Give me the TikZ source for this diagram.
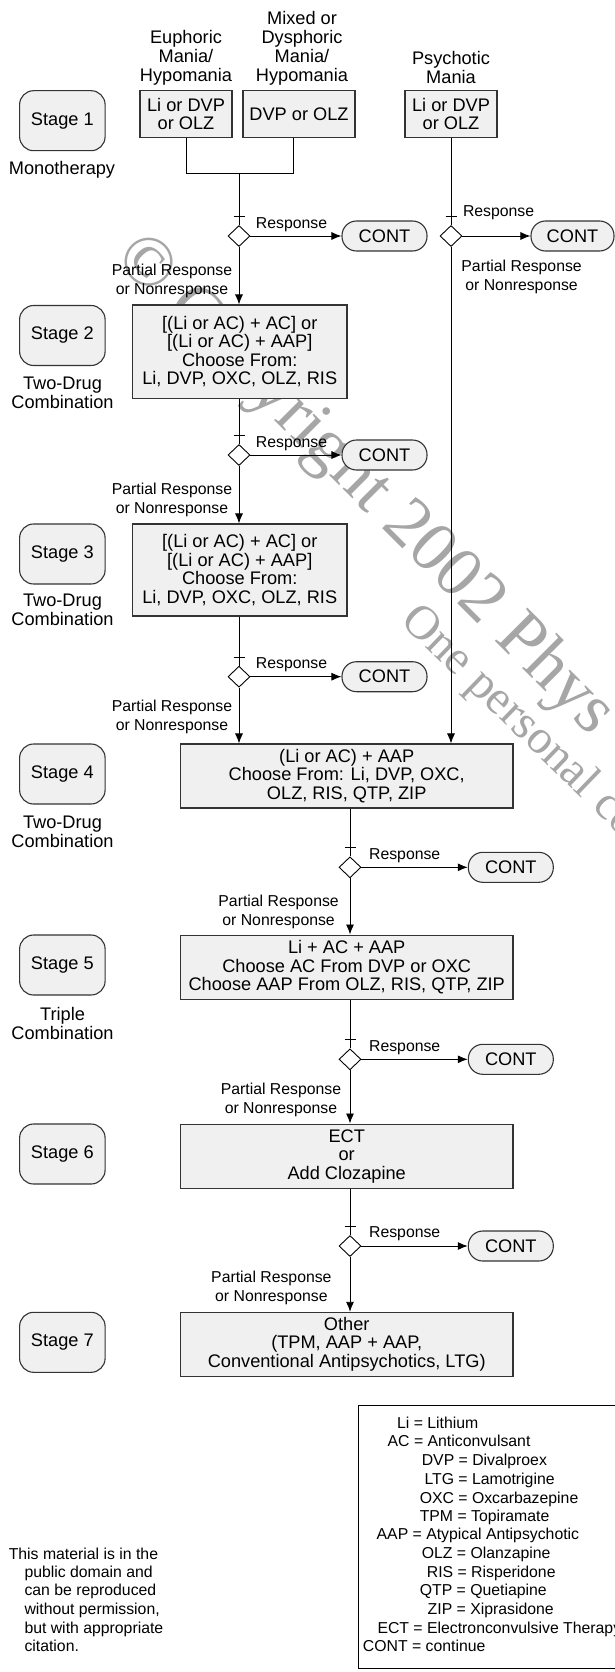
\documentclass[tikz,border=0pt]{standalone}
\usepackage{fontspec}
\setmainfont{Liberation Sans}
\newfontfamily\wmfont{Liberation Serif}
\usetikzlibrary{shapes.geometric,arrows.meta,calc}
\definecolor{boxfill}{HTML}{F0F0F0}
\definecolor{boxline}{HTML}{333333}
\definecolor{wmgray}{HTML}{A6A6A6}
\newcommand{\mainsize}{\fontsize{18.2}{18.4}\selectfont}
\newcommand{\smallsz}{\fontsize{15.8}{18.4}\selectfont}
\newcommand{\headsize}{\fontsize{18.2}{19}\selectfont}
\begin{document}
\begin{tikzpicture}[x=1pt,y=-1pt,
  stagebox/.style={draw=boxline,fill=boxfill,line width=1.1pt,rounded corners=14pt,minimum width=85.5pt,minimum height=60pt,inner sep=0pt,font=\mainsize},
  drugbox/.style={draw=boxline,fill=boxfill,line width=1.1pt,inner sep=0pt,align=center,font=\mainsize},
  contbox/.style={draw=boxline,fill=boxfill,line width=1.1pt,rounded corners=14.5pt,minimum width=85pt,minimum height=30pt,inner sep=0pt,font=\mainsize},
  decision/.style={draw=black,fill=white,diamond,line width=0.9pt,minimum width=22pt,minimum height=21pt,inner sep=0pt},
  sublabel/.style={align=center,font=\mainsize,inner sep=0pt},
  headlabel/.style={align=center,font=\headsize,inner sep=0pt},
  resp/.style={font=\smallsz,inner sep=0pt},
  partial/.style={align=center,font=\smallsz,inner sep=0pt},
  legendline/.style={anchor=base west,font=\smallsz,inner sep=0pt},
  flow/.style={line width=0.9pt,draw=black},
  arrowflow/.style={flow,-{Latex[length=10pt,width=8pt]}},
  tickmark/.style={line width=0.9pt},
  watermark/.style={text=wmgray,inner sep=0pt,anchor=base west}
]
\useasboundingbox (0,0) rectangle (615,1672);
\fill[white] (0,0) rectangle (615,1672);

% watermark (behind everything)
\node[watermark,font=\wmfont\fontsize{71}{71}\selectfont,rotate=-45] (wmA) at (113.4,259.5) {© Copyright 2002 Phys};
\node[watermark,font=\wmfont\fontsize{48}{48}\selectfont,rotate=-44] (wmB) at (399.2,622) {One personal co};

% stage labels
\node[stagebox] (s1) at (62.35,120.7) {Stage 1};
\node[stagebox] (s2) at (62.35,335.5) {Stage 2};
\node[stagebox] (s3) at (62.35,554) {Stage 3};
\node[stagebox] (s4) at (62.35,774) {Stage 4};
\node[stagebox] (s5) at (62.35,965) {Stage 5};
\node[stagebox] (s6) at (62.35,1154) {Stage 6};
\node[stagebox] (s7) at (62.35,1342.3) {Stage 7};

\node[sublabel] (s1t) at (62,170) {Monotherapy};
\node[sublabel] (s2t) at (62.5,392.8) {Two-Drug\\Combination};
\node[sublabel] (s3t) at (62.5,610) {Two-Drug\\Combination};
\node[sublabel] (s4t) at (62.5,832) {Two-Drug\\Combination};
\node[sublabel] (s5t) at (62.5,1023.4) {Triple\\Combination};

% headers
\node[headlabel] (h1) at (186,58) {Euphoric\\Mania/\\Hypomania};
\node[headlabel] (h2) at (302,48.5) {Mixed or\\Dysphoric\\Mania/\\Hypomania};
\node[headlabel] (h3) at (451,67.5) {Psychotic\\Mania};

% stage 1 boxes
\node[drugbox,minimum width=92pt,minimum height=46.6pt] (b1a) at (186,114) {Li or DVP\\or OLZ};
\node[drugbox,minimum width=112pt,minimum height=46.6pt] (b1b) at (299,114) {DVP or OLZ};
\node[drugbox,minimum width=92pt,minimum height=46.6pt] (b1c) at (451,114) {Li or DVP\\or OLZ};

% main boxes
\node[drugbox,minimum width=214.5pt,minimum height=93.3pt] (b2) at (239.75,351.65) {{[}(Li or AC) + AC] or\\{[}(Li or AC) + AAP]\\Choose From:\\Li, DVP, OXC, OLZ, RIS};
\node[drugbox,minimum width=214.5pt,minimum height=92pt] (b3) at (239.75,570) {{[}(Li or AC) + AC] or\\{[}(Li or AC) + AAP]\\Choose From:\\Li, DVP, OXC, OLZ, RIS};
\node[drugbox,minimum width=332.6pt,minimum height=64pt] (b4) at (346.7,776) {(Li or AC) + AAP\\Choose From: Li, DVP, OXC,\\OLZ, RIS, QTP, ZIP};
\node[drugbox,minimum width=332.6pt,minimum height=64.3pt] (b5) at (346.7,967.2) {Li + AC + AAP\\Choose AC From DVP or OXC\\Choose AAP From OLZ, RIS, QTP, ZIP};
\node[drugbox,minimum width=332.6pt,minimum height=64.3pt] (b6) at (346.7,1156.2) {ECT\\or\\Add Clozapine};
\node[drugbox,minimum width=332.6pt,minimum height=63.7pt] (b7) at (346.7,1344.2) {Other\\(TPM, AAP + AAP,\\Conventional Antipsychotics, LTG)};

% decisions
\node[decision] (d1) at (239,236) {};
\node[decision] (d2) at (239,455) {};
\node[decision] (d3) at (239,676.7) {};
\node[decision] (d4) at (350,867.3) {};
\node[decision] (d5) at (350,1059.3) {};
\node[decision] (d6) at (350,1246) {};
\node[decision] (dR) at (451,236) {};

% continue nodes
\node[contbox] (c1) at (384.5,236) {CONT};
\node[contbox] (c2) at (384.5,455) {CONT};
\node[contbox] (c3) at (384.5,676.7) {CONT};
\node[contbox] (c4) at (510.8,867.3) {CONT};
\node[contbox] (c5) at (510.8,1059.3) {CONT};
\node[contbox] (c6) at (510.8,1246) {CONT};
\node[contbox,minimum width=83pt] (cR) at (572.5,236) {CONT};

% response labels
\node[resp] (r1) at (291.5,224.7) {Response};
\node[resp] (r2) at (291.5,443.4) {Response};
\node[resp] (r3) at (291.5,664.4) {Response};
\node[resp] (r4) at (404.7,855.7) {Response};
\node[resp] (r5) at (404.7,1047.4) {Response};
\node[resp] (r6) at (404.7,1233.4) {Response};
\node[resp] (rR) at (498.6,212.7) {Response};

% partial labels
\node[partial] (p1) at (172,281) {Partial Response\\or Nonresponse};
\node[partial] (p2) at (172,500) {Partial Response\\or Nonresponse};
\node[partial] (p3) at (172,717) {Partial Response\\or Nonresponse};
\node[partial] (p4) at (278.6,912) {Partial Response\\or Nonresponse};
\node[partial] (p5) at (281,1100) {Partial Response\\or Nonresponse};
\node[partial] (p6) at (271.4,1288) {Partial Response\\or Nonresponse};
\node[partial] (pR) at (521.6,277) {Partial Response\\or Nonresponse};

% connectors
\coordinate (jA) at (186,173);
\coordinate (jB) at (293,173);
\coordinate (jM) at (239,173);
\draw[flow] (b1a.south) -- (jA) -- (jB) -- (jB |- b1b.south);
\draw[flow] (jM) -- (d1.north);
\draw[flow] (b1c.south) -- (dR.north);

\draw[arrowflow] (d1.east) -- (c1.west);
\draw[arrowflow] (d2.east) -- (c2.west);
\draw[arrowflow] (d3.east) -- (c3.west);
\draw[arrowflow] (d4.east) -- (c4.west);
\draw[arrowflow] (d5.east) -- (c5.west);
\draw[arrowflow] (d6.east) -- (c6.west);
\draw[arrowflow] (dR.east) -- (cR.west);

\draw[arrowflow] (d1.south) -- (d1.south |- b2.north);
\draw[flow] (d2 |- b2.south) -- (d2.north);
\draw[arrowflow] (d2.south) -- (d2.south |- b3.north);
\draw[flow] (d3 |- b3.south) -- (d3.north);
\draw[arrowflow] (d3.south) -- (d3.south |- b4.north);
\draw[arrowflow] (dR.south) -- (dR.south |- b4.north);
\draw[flow] (d4 |- b4.south) -- (d4.north);
\draw[arrowflow] (d4.south) -- (d4.south |- b5.north);
\draw[flow] (d5 |- b5.south) -- (d5.north);
\draw[arrowflow] (d5.south) -- (d5.south |- b6.north);
\draw[flow] (d6 |- b6.south) -- (d6.north);
\draw[arrowflow] (d6.south) -- (d6.south |- b7.north);

% ticks
\foreach \d in {d1,d2,d3,d4,d5,d6,dR}{
  \draw[tickmark] ([shift={(-5.5,-19.5)}]\d.center) -- ([shift={(5.5,-19.5)}]\d.center);
}

% legend
\node[draw=black,line width=1pt,minimum width=290pt,minimum height=263.3pt,anchor=north west,inner sep=0pt] (legend) at (357.6,1405) {};
\node[legendline] (lg1) at (396.9,1428.4) {Li = Lithium};
\node[legendline] (lg2) at (387.5,1446.7) {AC = Anticonvulsant};
\node[legendline] (lg3) at (421.6,1465.7) {DVP = Divalproex};
\node[legendline] (lg4) at (424.3,1484.4) {LTG = Lamotrigine};
\node[legendline] (lg5) at (419.6,1503) {OXC = Oxcarbazepine};
\node[legendline] (lg6) at (419.6,1521.4) {TPM = Topiramate};
\node[legendline] (lg7) at (376.5,1539.7) {AAP = Atypical Antipsychotic};
\node[legendline] (lg8) at (421.6,1558.4) {OLZ = Olanzapine};
\node[legendline] (lg9) at (426.7,1577.4) {RIS = Risperidone};
\node[legendline] (lg10) at (419.6,1595.7) {QTP = Quetiapine};
\node[legendline] (lg11) at (427.5,1614.7) {ZIP = Xiprasidone};
\node[legendline] (lg12) at (377.3,1633.4) {ECT = Electronconvulsive Therapy};
\node[legendline] (lg13) at (362.7,1651.7) {CONT = continue};

% disclaimer
\node[legendline] (dc1) at (8.6,1559) {This material is in the};
\node[legendline] (dc2) at (24.3,1577.4) {public domain and};
\node[legendline] (dc3) at (24.3,1595.7) {can be reproduced};
\node[legendline] (dc4) at (24.3,1614.7) {without permission,};
\node[legendline] (dc5) at (24.3,1633.4) {but with appropriate};
\node[legendline] (dc6) at (24.3,1651.7) {citation.};
\end{tikzpicture}
\end{document}
